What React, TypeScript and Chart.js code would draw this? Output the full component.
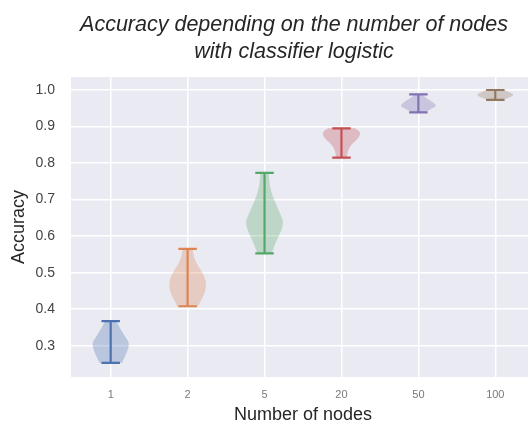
import React, { useEffect, useRef } from "react";
import { Chart, registerables } from "chart.js";

Chart.register(...registerables);

// ---------- data ----------
const categories = ["1", "2", "5", "20", "50", "100"];
const yTickValues = [0.3, 0.4, 0.5, 0.6, 0.7, 0.8, 0.9, 1.0];
const titleLines = ["Accuracy depending on the number of nodes", "with classifier logistic"];

const minAccuracy = [0.253, 0.408, 0.553, 0.815, 0.939, 0.973];
const maxAccuracy = [0.367, 0.565, 0.773, 0.895, 0.988, 1.0];

// violin outlines: accuracy levels (top -> bottom) and relative density widths
const levels1 = [0.367, 0.355, 0.343, 0.325, 0.307, 0.288, 0.27, 0.253];
const widths1 = [0.3, 0.42, 0.55, 0.76, 1.0, 0.9, 0.76, 0.6];
const levels2 = [0.565, 0.544, 0.526, 0.507, 0.489, 0.466, 0.443, 0.425, 0.408];
const widths2 = [0.26, 0.33, 0.46, 0.7, 0.9, 1.0, 0.9, 0.72, 0.55];
const levels3 = [0.773, 0.75, 0.72, 0.7, 0.675, 0.65, 0.638, 0.62, 0.6, 0.58, 0.553];
const widths3 = [0.22, 0.24, 0.36, 0.5, 0.72, 0.92, 1.0, 0.93, 0.75, 0.57, 0.38];
const levels4 = [0.895, 0.888, 0.881, 0.872, 0.862, 0.854, 0.845, 0.835, 0.825, 0.815];
const widths4 = [0.72, 0.93, 1.0, 0.95, 0.78, 0.6, 0.45, 0.36, 0.31, 0.28];
const levels5 = [0.988, 0.978, 0.968, 0.957, 0.948, 0.939];
const widths5 = [0.2, 0.42, 0.72, 1.0, 0.68, 0.38];
const levels6 = [1.0, 0.993, 0.986, 0.98, 0.973];
const widths6 = [0.45, 0.8, 1.0, 0.75, 0.4];

const violinLevels = [levels1, levels2, levels3, levels4, levels5, levels6];
const violinWidths = [widths1, widths2, widths3, widths4, widths5, widths6];

const palette = ["#4C72B0", "#DD8452", "#55A868", "#C44E52", "#8172B3", "#937860"];

// ---------- style ----------
const FONT = "'Liberation Sans', Arial, sans-serif";
const HALF_WIDTH = 0.245; // max half width of violin in category units
const CAP_HALF = 0.12;

function hexToRgba(hex: string, a: number) {
  const n = parseInt(hex.slice(1), 16);
  return `rgba(${(n >> 16) & 255},${(n >> 8) & 255},${n & 255},${a})`;
}

const violinPlugin = {
  id: "violins",
  beforeDraw(chart: any) {
    const { ctx, chartArea } = chart;
    ctx.save();
    ctx.fillStyle = "#EAEAF2";
    ctx.fillRect(chartArea.left, chartArea.top, chartArea.right - chartArea.left, chartArea.bottom - chartArea.top);
    ctx.restore();
  },
  afterDatasetsDraw(chart: any) {
    const { ctx } = chart;
    const xs = chart.scales.x;
    const ys = chart.scales.y;
    ctx.save();
    ctx.beginPath();
    ctx.rect(chart.chartArea.left, chart.chartArea.top, chart.chartArea.right - chart.chartArea.left, chart.chartArea.bottom - chart.chartArea.top);
    ctx.clip();
    categories.forEach((_, i) => {
      const pos = i + 1;
      const lv = violinLevels[i];
      const wd = violinWidths[i];
      const right = lv.map((l, k) => ({ x: xs.getPixelForValue(pos + wd[k] * HALF_WIDTH), y: ys.getPixelForValue(l) }));
      const left = lv.map((l, k) => ({ x: xs.getPixelForValue(pos - wd[k] * HALF_WIDTH), y: ys.getPixelForValue(l) })).reverse();
      const smooth = (pts: { x: number; y: number }[]) => {
        for (let k = 1; k < pts.length - 1; k++) {
          const mx = (pts[k].x + pts[k + 1].x) / 2;
          const my = (pts[k].y + pts[k + 1].y) / 2;
          if (k === pts.length - 2) ctx.quadraticCurveTo(pts[k].x, pts[k].y, pts[k + 1].x, pts[k + 1].y);
          else ctx.quadraticCurveTo(pts[k].x, pts[k].y, mx, my);
        }
        if (pts.length === 2) ctx.lineTo(pts[1].x, pts[1].y);
      };
      ctx.beginPath();
      ctx.moveTo(left[left.length - 1].x, left[left.length - 1].y);
      ctx.lineTo(right[0].x, right[0].y);
      smooth(right);
      ctx.lineTo(left[0].x, left[0].y);
      smooth(left);
      ctx.closePath();
      ctx.fillStyle = hexToRgba(palette[i], 0.3);
      ctx.fill();

      // stem and caps
      ctx.strokeStyle = palette[i];
      ctx.lineWidth = 2.2;
      ctx.lineCap = "butt";
      const cx = xs.getPixelForValue(pos);
      const yTop = ys.getPixelForValue(maxAccuracy[i]);
      const yBot = ys.getPixelForValue(minAccuracy[i]);
      ctx.beginPath();
      ctx.moveTo(cx, yTop);
      ctx.lineTo(cx, yBot);
      ctx.moveTo(xs.getPixelForValue(pos - CAP_HALF), yTop);
      ctx.lineTo(xs.getPixelForValue(pos + CAP_HALF), yTop);
      ctx.moveTo(xs.getPixelForValue(pos - CAP_HALF), yBot);
      ctx.lineTo(xs.getPixelForValue(pos + CAP_HALF), yBot);
      ctx.stroke();
    });
    ctx.restore();
  },
  afterDraw(chart: any) {
    const { ctx, chartArea } = chart;
    ctx.save();
    ctx.fillStyle = "#262626";
    ctx.font = `italic 21.5px ${FONT}`;
    ctx.textAlign = "center";
    ctx.textBaseline = "alphabetic";
    const cx = (chartArea.left + chartArea.right) / 2 - 9;
    ctx.fillText(titleLines[0], cx, 30.5);
    ctx.fillText(titleLines[1], cx, 57.5);
    ctx.restore();
  },
};

export default function App() {
  const ref = useRef<HTMLCanvasElement | null>(null);
  useEffect(() => {
    document.body.style.margin = "0";
    const canvas = ref.current!;
    const chart = new Chart(canvas, {
      type: "scatter",
      data: { datasets: [] },
      options: {
        animation: false,
        responsive: false,
        devicePixelRatio: 1,
        layout: { padding: { left: 4, top: 77, right: 1, bottom: 0 } },
        plugins: { legend: { display: false }, tooltip: { enabled: false }, title: { display: false } },
        scales: {
          x: {
            type: "linear",
            min: 0.484,
            max: 6.516,
            afterBuildTicks: (s: any) => {
              s.ticks = categories.map((_, i) => ({ value: i + 1 }));
            },
            afterFit: (s: any) => {
              s.height = 49;
            },
            ticks: {
              callback: (v: any) => categories[Math.round(Number(v)) - 1],
              font: { family: FONT, size: 11 },
              color: "#7a7a7a",
              padding: 11,
              maxRotation: 0,
              autoSkip: false,
            },
            grid: { color: "#ffffff", lineWidth: 1.5, drawTicks: false },
            border: { display: false },
            title: {
              display: true,
              text: "Number of nodes",
              font: { family: FONT, size: 18 },
              color: "#262626",
              padding: { top: 0, bottom: 0 },
            },
          },
          y: {
            type: "linear",
            min: 0.2143,
            max: 1.0356,
            afterBuildTicks: (s: any) => {
              s.ticks = yTickValues.map((v) => ({ value: v }));
            },
            afterFit: (s: any) => {
              s.width = 67;
            },
            ticks: {
              callback: (v: any) => Number(v).toFixed(1),
              font: { family: FONT, size: 14 },
              color: "#444444",
              padding: 16,
            },
            grid: { color: "#ffffff", lineWidth: 1.5, drawTicks: false },
            border: { display: false },
            title: {
              display: true,
              text: "Accuracy",
              font: { family: FONT, size: 18 },
              color: "#262626",
              padding: { top: 4, bottom: 0 },
            },
          },
        },
      },
      plugins: [violinPlugin],
    } as any);
    return () => chart.destroy();
  }, []);
  return (
    <div style={{ width: 528, height: 426, overflow: "hidden", position: "relative" }}>
      <canvas ref={ref} width={536} height={426} style={{ width: 536, height: 426, display: "block" }} />
    </div>
  );
}
